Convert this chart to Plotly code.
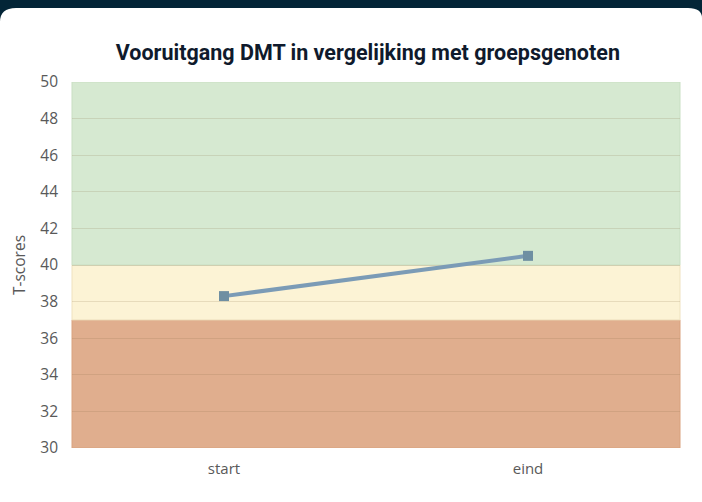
import plotly.graph_objects as go

# ---- data ----
categories = ["start", "eind"]
t_scores = [38.3, 40.5]
band_lows = [30, 37, 40]
band_highs = [37, 40, 50]
band_colors = ["#e0ae8e", "#fcf3d5", "#d6e9d1"]
band_edges = ["#d9a27f", "#efe2bf", "#c9dfc3"]
y_ticks = list(range(30, 52, 2))

W, H = 702, 502
L, R, T, B = 72, 22, 82, 54
pw, ph = W - L - R, H - T - B

def px(x):
    return (x - L) / pw

def py(y):
    return (H - B - y) / ph

fig = go.Figure()
fig.add_trace(go.Scatter(
    x=categories, y=t_scores, mode="lines+markers",
    line=dict(color="#7b9bb6", width=4),
    marker=dict(symbol="square", size=10, color="#6f8fa2"),
    showlegend=False, hoverinfo="skip"))

shapes = []
# dark header strip with rounded card corners
path = (f"M {px(0)},{py(0)} L {px(W)},{py(0)} L {px(W)},{py(18)} "
        f"Q {px(W)},{py(8)} {px(W-14)},{py(8)} L {px(16)},{py(8)} "
        f"Q {px(0)},{py(8)} {px(0)},{py(22)} Z")
shapes.append(dict(type="path", xref="paper", yref="paper", path=path,
                   fillcolor="#032537", line=dict(width=0), layer="above"))
for lo, hi, c, e in zip(band_lows, band_highs, band_colors, band_edges):
    shapes.append(dict(type="rect", xref="paper", yref="y", x0=0, x1=1,
                       y0=lo, y1=hi, fillcolor=c,
                       line=dict(color=e, width=1), layer="below"))

fig.update_layout(
    width=W, height=H,
    margin=dict(l=L, r=R, t=T, b=B),
    paper_bgcolor="white", plot_bgcolor="white",
    shapes=shapes,
    title=dict(text="<b>Vooruitgang DMT in vergelijking met groepsgenoten</b>",
               x=0.524, xanchor="center", y=1 - 52 / H, yanchor="middle",
               font=dict(family="Roboto", size=21.5, color="#0f1a2c")),
    xaxis=dict(type="category", range=[-0.5, 1.5], showgrid=False,
               showline=False, ticks="", zeroline=False, ticklabelstandoff=10,
               tickfont=dict(family="Open Sans", size=15, color="#595959")),
    yaxis=dict(range=[30, 50], tickvals=y_ticks, showgrid=True,
               gridcolor="rgba(140,110,70,0.18)", gridwidth=1,
               zeroline=False, showline=False, ticks="", ticklabelstandoff=13,
               tickfont=dict(family="Open Sans", size=15.5, color="#595959"),
               title=dict(text="T-scores", standoff=10,
                          font=dict(family="Open Sans", size=15.5, color="#595959"))),
)

fig.write_html("out.html", config={"displayModeBar": False},
               post_script="document.body.style.margin='0';document.body.style.overflow='hidden';")
